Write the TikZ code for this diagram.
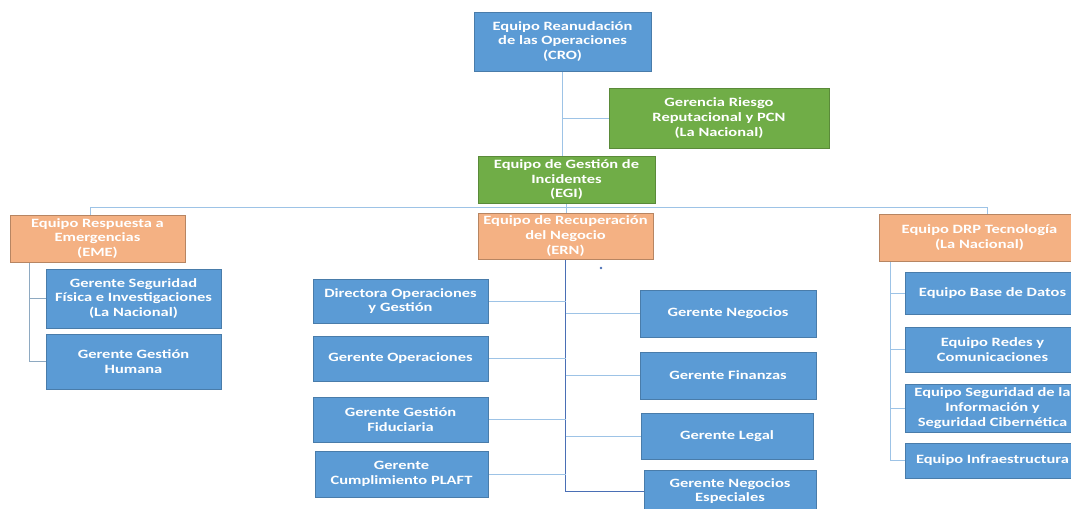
\documentclass[tikz,border=0pt]{standalone}
\usepackage{fontspec}
\setmainfont[FakeStretch=1.3]{Carlito}
\usetikzlibrary{backgrounds}
\definecolor{boxblue}{HTML}{5B9BD5}
\definecolor{boxgreen}{HTML}{70AD47}
\definecolor{boxorange}{HTML}{F4B183}
\definecolor{lineblue}{HTML}{9DC3E6}
\definecolor{linedark}{HTML}{4A6FB5}
\definecolor{linegray}{HTML}{8EA9C1}
\tikzset{
  box/.style={rectangle,text=white,align=center,inner sep=1pt,
    font=\bfseries\fontsize{9.5}{11}\selectfont},
  bluebox/.style={box,fill=boxblue,draw=boxblue!80!black},
  greenbox/.style={box,fill=boxgreen,draw=boxgreen!80!black},
  orangebox/.style={box,fill=boxorange,draw=boxorange!75!black},
  conn/.style={line width=1.8pt}
}
\begin{document}
\begin{tikzpicture}[x=0.75pt,y=-0.75pt]
\useasboundingbox (0,0) rectangle (1071,508);

% top of the chart
\node[bluebox,minimum width=132.75pt,minimum height=44.25pt] (cro) at (562.5,41.5)
  {Equipo Reanudación\\de las Operaciones\\(CRO)};
\node[greenbox,minimum width=165pt,minimum height=45pt] (riesgo) at (719,118)
  {Gerencia Riesgo\\Reputacional y PCN\\(La Nacional)};
\node[greenbox,minimum width=132.75pt,minimum height=35.25pt] (egi) at (566.5,179.5)
  {Equipo de Gestión de\\Incidentes\\(EGI)};

% the three teams
\node[orangebox,minimum width=131.25pt,minimum height=35.25pt] (eme) at (97.5,238.5)
  {Equipo Respuesta a\\Emergencias\\(EME)};
\node[orangebox,minimum width=131.25pt,minimum height=34.5pt] (ern) at (565.5,236)
  {Equipo de Recuperación\\del Negocio\\(ERN)};
\node[orangebox,minimum width=150.75pt,minimum height=35.25pt] (drp) at (979.5,237.5)
  {Equipo DRP Tecnología\\(La Nacional)};

% EME
\node[bluebox,minimum width=131.25pt,minimum height=44.25pt] (seg) at (133.5,298.5)
  {Gerente Seguridad\\Física e Investigaciones\\(La Nacional)};
\node[bluebox,minimum width=131.25pt,minimum height=41.25pt] (hum) at (133.5,361.5)
  {Gerente Gestión\\Humana};

% ERN
\node[bluebox,minimum width=131.25pt,minimum height=33pt] (dir) at (400.5,301)
  {Directora Operaciones\\y Gestión};
\node[bluebox,minimum width=131.25pt,minimum height=33.75pt] (ope) at (400.5,358.5)
  {Gerente Operaciones};
\node[bluebox,minimum width=131.25pt,minimum height=33.75pt] (fid) at (400.5,419.5)
  {Gerente Gestión\\Fiduciaria};
\node[bluebox,minimum width=129.75pt,minimum height=34.5pt] (pla) at (401.5,474)
  {Gerente\\Cumplimiento PLAFT};
\node[bluebox,minimum width=132pt,minimum height=35.25pt] (neg) at (728,313.5)
  {Gerente Negocios};
\node[bluebox,minimum width=132pt,minimum height=35.25pt] (fin) at (728,375.5)
  {Gerente Finanzas};
\node[bluebox,minimum width=129pt,minimum height=34.5pt] (leg) at (727,436)
  {Gerente Legal};
\node[bluebox,minimum width=129pt,minimum height=31.5pt] (esp) at (730,491)
  {Gerente Negocios\\Especiales};

% DRP
\node[bluebox,minimum width=131.25pt,minimum height=31.5pt] (bd) at (992.5,293)
  {Equipo Base de Datos};
\node[bluebox,minimum width=131.25pt,minimum height=33.75pt] (red) at (992.5,349.5)
  {Equipo Redes y\\Comunicaciones};
\node[bluebox,minimum width=131.25pt,minimum height=36pt] (ciber) at (992.5,408)
  {Equipo Seguridad de la\\Información y\\Seguridad Cibernética};
\node[bluebox,minimum width=131.25pt,minimum height=26.25pt] (inf) at (992.5,460.5)
  {Equipo Infraestructura};

\coordinate (busl) at (90,207);
\coordinate (busr) at (987,207);
\coordinate (emeline) at (29,0);
\coordinate (drpline) at (890,0);

% connectors
\begin{scope}[on background layer,conn]
\draw[lineblue] (cro.south) -- (cro.south |- egi.north);
\draw[lineblue] (cro.south |- riesgo.west) -- (riesgo.west);
\draw[lineblue] (eme.north -| busl) -- (busl) -- (busr) -- (drp.north -| busr);
\draw[lineblue] (egi.south) -- (egi.south |- ern.north);
\draw[linegray] (eme.south -| emeline) |- (hum.west);
\draw[linegray] (emeline |- seg.west) -- (seg.west);
\draw[linedark] (ern.south) |- (esp.west);
\foreach \n in {dir,ope,fid,pla}
  \draw[lineblue] (ern.south |- \n.east) -- (\n.east);
\foreach \n in {neg,fin,leg}
  \draw[lineblue] (ern.south |- \n.west) -- (\n.west);
\draw[lineblue] (drp.south -| drpline) |- (inf.west);
\foreach \n in {bd,red,ciber}
  \draw[lineblue] (drpline |- \n.west) -- (\n.west);
\end{scope}

\fill[linedark] (601,268) circle (1pt);
\end{tikzpicture}
\end{document}
